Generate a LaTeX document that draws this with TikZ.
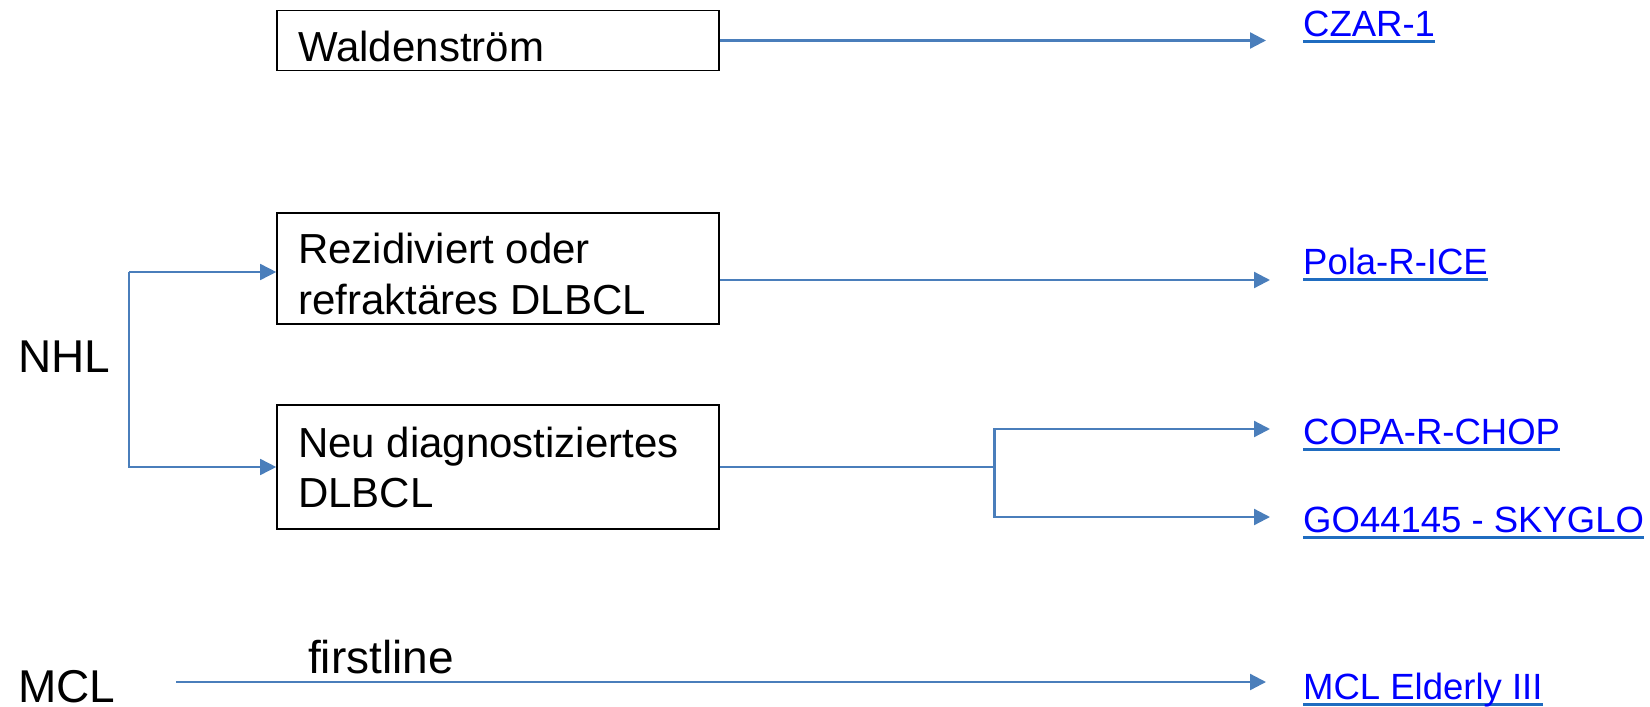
\documentclass[tikz,border=0pt]{standalone}
\usepackage{fontspec}
\setmainfont{Liberation Sans}
\usetikzlibrary{arrows.meta}
\definecolor{linecol}{HTML}{4A7EBB}
\definecolor{linkblue}{HTML}{0000FF}
\definecolor{ulblue}{HTML}{1F6CC0}
\newcommand\lnktext[1]{\setbox0\hbox{\color{linkblue}#1}\rlap{\textcolor{ulblue}{\rule[-6.5pt]{\wd0}{2.5pt}}}\box0}
\begin{document}
\begin{tikzpicture}[x=1pt,y=-1pt,
  box/.style={draw=black, line width=1.6pt, rectangle, inner sep=0pt, minimum width=442pt},
  boxtxt/.style={anchor=base west, inner sep=0pt, font=\fontsize{42}{50}\selectfont},
  big/.style={anchor=base west, inner sep=0pt, font=\fontsize{46}{55}\selectfont},
  lnk/.style={anchor=base west, inner sep=0pt, font=\fontsize{36.5}{44}\selectfont},
  arr/.style={draw=linecol, line width=2.3pt, -{Triangle[length=16pt,width=16pt]}},
  thinarr/.style={arr, line width=1.6pt}]
\useasboundingbox (0,0) rectangle (1650,707);
% boxes
\node[box, minimum height=60pt] (wal) at (498,40.5) {};
\node[boxtxt] (walt) at (298,61) {Waldenström};
\node[box, minimum height=111pt] (rez) at (498,268.5) {};
\node[boxtxt] (rez1) at (298,263) {Rezidiviert oder};
\node[boxtxt] (rez2) at (298,314) {refraktäres DLBCL};
\node[box, minimum height=124pt] (neu) at (498,467) {};
\node[boxtxt] (neu1) at (298,457) {Neu diagnostiziertes};
\node[boxtxt] (neu2) at (298,507) {DLBCL};
% labels
\node[big] (nhl) at (18,372) {NHL};
\node[big] (mcl) at (18,702) {MCL};
\node[big] (fl) at (308,673) {firstline};
% links
\node[lnk] (czar) at (1303,36) {\lnktext{CZAR-1}};
\node[lnk] (pola) at (1303,274) {\lnktext{Pola-R-ICE}};
\node[lnk] (copa) at (1303,444) {\lnktext{COPA-R-CHOP}};
\node[lnk] (go) at (1303,532) {\lnktext{GO44145 - SKYGLO}};
\node[lnk] (mce) at (1303,699) {\lnktext{MCL Elderly III}};
% coordinates
\coordinate (e1) at (1266,40.5);
\coordinate (e2) at (1270,280);
\coordinate (sp) at (994.5,467);
\coordinate (e3) at (1270,429);
\coordinate (e4) at (1270,517);
\coordinate (br) at (129,272);
\coordinate (m0) at (176,682);
\coordinate (e5) at (1266,682);
% connectors
\draw[arr] (wal.east) -- (e1);
\draw[arr] (rez.east |- e2) -- (e2);
\draw[arr] (neu.east) -- (sp) |- (e3);
\draw[arr] (sp) |- (e4);
\draw[thinarr] (br) -- (rez.west |- br);
\draw[thinarr] (br) |- (neu.west);
\draw[arr] (m0) -- (e5);
\end{tikzpicture}
\end{document}
